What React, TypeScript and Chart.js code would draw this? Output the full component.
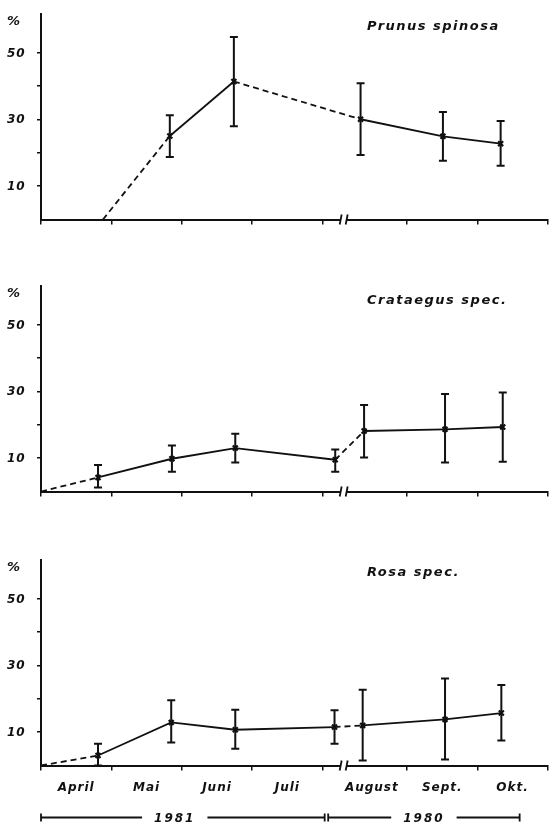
import React, { useEffect, useRef } from 'react';
import { Chart, registerables } from 'chart.js';
Chart.register(...registerables);

// ---- axis / label data ----
const monthNames = ['April', 'Mai', 'Juni', 'Juli', 'August', 'Sept.', 'Okt.'];
const monthLabelPos = [0.5, 1.5, 2.5, 3.5, 4.7, 5.7, 6.7];
const monthTicks = [0, 1, 2, 3, 4, 5.2, 6.2, 7.2];
const breakPos = 4.3;
const xMax = 7.2;
const yMax = 61.5;
const yTicks = [10, 20, 30, 40, 50];
const yLabels = [10, 30, 50];
const yearNames = ['1981', '1980'];
const yearLabelPos = [1.9, 5.44];
const yearSpans = [[0, 4.03], [4.08, 6.8]];

// ---- series data ----
const prunusX = [0.88, 1.83, 2.74, 4.54, 5.71, 6.53];
const prunusY = [0, 25, 41.3, 30, 24.9, 22.7];
const prunusHi = [null, 31.2, 54.6, 40.8, 32.2, 29.5];
const prunusLo = [null, 18.7, 27.9, 19.3, 17.6, 16.1];
const prunusDashed = [true, false, true, false, false];

const crataegusX = [0, 0.81, 1.86, 2.76, 4.18, 4.59, 5.74, 6.56];
const crataegusY = [0, 4.2, 9.8, 13.0, 9.5, 18.1, 18.6, 19.3];
const crataegusHi = [null, 7.9, 13.8, 17.3, 12.6, 25.9, 29.2, 29.6];
const crataegusLo = [null, 1.2, 5.9, 8.7, 5.9, 10.2, 8.7, 8.9];
const crataegusDashed = [true, false, false, false, true, false, false];

const rosaX = [0, 0.81, 1.85, 2.76, 4.17, 4.57, 5.74, 6.54];
const rosaY = [0, 3.0, 12.9, 10.7, 11.5, 12.0, 13.8, 15.7];
const rosaHi = [null, 6.5, 19.5, 16.7, 16.5, 22.7, 26.0, 24.1];
const rosaLo = [null, 0, 6.9, 5.0, 6.5, 1.5, 1.8, 7.5];
const rosaDashed = [true, false, false, false, true, false, false];

const INK = '#111';
const FONT = '"DejaVu Sans", sans-serif';

type PanelDef = {
  title: string;
  x: number[];
  y: number[];
  hi: (number | null)[];
  lo: (number | null)[];
  dashed: boolean[];
  top: number;
  height: number;
  titleY: number;
  showMonths: boolean;
};

const panels: PanelDef[] = [
  { title: 'Prunus spinosa', x: prunusX, y: prunusY, hi: prunusHi, lo: prunusLo, dashed: prunusDashed, top: 0, height: 272, titleY: 27, showMonths: false },
  { title: 'Crataegus spec.', x: crataegusX, y: crataegusY, hi: crataegusHi, lo: crataegusLo, dashed: crataegusDashed, top: 272, height: 274, titleY: 29, showMonths: false },
  { title: 'Rosa spec.', x: rosaX, y: rosaY, hi: rosaHi, lo: rosaLo, dashed: rosaDashed, top: 546, height: 278, titleY: 27, showMonths: true },
];

function makeDecor(p: PanelDef) {
  return {
    id: 'decor',
    afterDatasetsDraw(chart: any) {
      const ctx = chart.ctx;
      const xs = chart.scales.x;
      const ys = chart.scales.y;
      ctx.save();
      ctx.strokeStyle = INK;
      ctx.lineWidth = 2;
      p.x.forEach((xv, i) => {
        const h = p.hi[i];
        const l = p.lo[i];
        if (h == null || l == null) return;
        const px = xs.getPixelForValue(xv);
        const t = ys.getPixelForValue(h);
        const b = ys.getPixelForValue(l);
        ctx.beginPath();
        ctx.moveTo(px, t);
        ctx.lineTo(px, b);
        ctx.moveTo(px - 4, t);
        ctx.lineTo(px + 4, t);
        ctx.moveTo(px - 4, b);
        ctx.lineTo(px + 4, b);
        ctx.stroke();
      });
      ctx.restore();
    },
    afterDraw(chart: any) {
      const ctx = chart.ctx;
      const xs = chart.scales.x;
      const ys = chart.scales.y;
      const base = ys.getPixelForValue(0);
      ctx.save();
      ctx.fillStyle = INK;
      ctx.strokeStyle = INK;

      // axis break
      const bx = xs.getPixelForValue(breakPos);
      ctx.fillStyle = '#fff';
      ctx.fillRect(bx - 3, base - 3, 6, 6);
      ctx.fillStyle = INK;
      ctx.lineWidth = 1.8;
      ctx.beginPath();
      ctx.moveTo(bx - 4, base + 5);
      ctx.lineTo(bx - 2, base - 5);
      ctx.moveTo(bx + 2, base + 5);
      ctx.lineTo(bx + 4, base - 5);
      ctx.stroke();

      // title
      ctx.textBaseline = 'middle';
      ctx.textAlign = 'left';
      (ctx as any).letterSpacing = '1.5px';
      ctx.font = `italic 600 13px ${FONT}`;
      ctx.fillText(p.title, 367, p.titleY);

      // percent sign and y labels
      (ctx as any).letterSpacing = '1px';
      ctx.font = `italic bold 13px ${FONT}`;
      ctx.fillText('%', 7, 22);
      ctx.font = `italic bold 12px ${FONT}`;
      yLabels.forEach((v) => {
        ctx.fillText(String(v), 7, ys.getPixelForValue(v) + 1);
      });

      if (p.showMonths) {
        ctx.textAlign = 'center';
        ctx.font = `italic bold 12px ${FONT}`;
        monthNames.forEach((m, i) => {
          ctx.fillText(m, xs.getPixelForValue(monthLabelPos[i]), base + 22);
        });
        // year bar
        const yy = base + 52;
        ctx.lineWidth = 1.8;
        ctx.font = `italic bold 12px ${FONT}`;
        (ctx as any).letterSpacing = '2px';
        yearNames.forEach((yn, i) => {
          const x0 = xs.getPixelForValue(yearSpans[i][0]);
          const x1 = xs.getPixelForValue(yearSpans[i][1]);
          const cx = xs.getPixelForValue(yearLabelPos[i]);
          const w = ctx.measureText(yn).width;
          ctx.fillText(yn, cx, yy + 1);
          ctx.beginPath();
          ctx.moveTo(x0, yy);
          ctx.lineTo(cx - w / 2 - 12, yy);
          ctx.moveTo(cx + w / 2 + 12, yy);
          ctx.lineTo(x1, yy);
          ctx.moveTo(x0, yy - 4);
          ctx.lineTo(x0, yy + 4);
          ctx.moveTo(x1, yy - 4);
          ctx.lineTo(x1, yy + 4);
          ctx.stroke();
        });
      }
      ctx.restore();
    },
  };
}

function Panel({ p }: { p: PanelDef }) {
  const ref = useRef<HTMLCanvasElement | null>(null);
  useEffect(() => {
    if (!ref.current) return;
    const H = p.height;
    const chart = new Chart(ref.current, {
      type: 'line',
      data: {
        datasets: [
          {
            data: p.x.map((x, i) => ({ x, y: p.y[i] })),
            borderColor: INK,
            borderWidth: 1.8,
            borderDash: [],
            pointStyle: 'crossRot',
            pointRadius: p.hi.map((h) => (h == null ? 0 : 3.5)),
            pointBorderWidth: 2.2,
            pointBorderColor: INK,
            pointBackgroundColor: INK,
            tension: 0,
            clip: 6,
            segment: {
              borderDash: (c: any) => (p.dashed[c.p0DataIndex] ? [6, 4] : []),
            },
          } as any,
        ],
      },
      options: {
        responsive: false,
        animation: false,
        devicePixelRatio: 1,
        layout: { padding: { top: 14, right: 6, left: 0, bottom: 0 } },
        plugins: {
          legend: { display: false },
          tooltip: { enabled: false },
          title: { display: false },
        },
        scales: {
          x: {
            type: 'linear',
            min: 0,
            max: xMax,
            afterBuildTicks: (s: any) => {
              s.ticks = monthTicks.map((v) => ({ value: v }));
            },
            ticks: { display: false },
            grid: { display: true, drawOnChartArea: false, drawTicks: true, tickLength: 5, color: INK, lineWidth: 1.5 },
            border: { display: true, color: INK, width: 2 },
            afterFit: (s: any) => {
              s.height = H - 219.5;
            },
          },
          y: {
            type: 'linear',
            min: 0,
            max: yMax,
            afterBuildTicks: (s: any) => {
              s.ticks = yTicks.map((v) => ({ value: v }));
            },
            ticks: { display: false },
            grid: { display: true, drawOnChartArea: false, drawTicks: true, tickLength: 4, color: INK, lineWidth: 1.5 },
            border: { display: true, color: INK, width: 2 },
            afterFit: (s: any) => {
              s.width = 41;
            },
          },
        },
      } as any,
      plugins: [makeDecor(p)],
    });
    return () => chart.destroy();
  }, [p]);
  return (
    <canvas
      ref={ref}
      width={554}
      height={p.height}
      style={{ position: 'absolute', left: 0, top: p.top, width: 554, height: p.height, display: 'block' }}
    />
  );
}

export default function App() {
  useEffect(() => {
    document.body.style.margin = '0';
    document.body.style.background = '#fff';
  }, []);
  return (
    <div style={{ position: 'relative', width: 554, height: 824, background: '#fff', overflow: 'hidden' }}>
      {panels.map((p, i) => (
        <Panel key={i} p={p} />
      ))}
    </div>
  );
}
